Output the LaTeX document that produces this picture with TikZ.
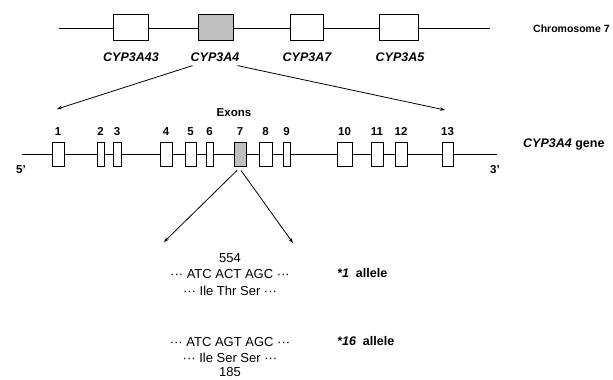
\documentclass[tikz,border=0pt]{standalone}
\usepackage{fontspec}
\setmainfont{Liberation Sans}
\usepackage{tikz}
\usetikzlibrary{arrows.meta, positioning}

\begin{document}
\begin{tikzpicture}[
    x=1pt, y=-1pt, >={Stealth[length=5pt, width=3.5pt]},
    gbox/.style={rectangle, draw, line width=1pt, fill=#1, inner sep=0pt,
      minimum height=26pt},
    ebox/.style={rectangle, draw, line width=0.9pt, fill=#1, inner sep=0pt,
      minimum height=24pt},
    gname/.style={font=\fontsize{12.5}{14}\selectfont\bfseries\itshape, inner sep=0pt},
    num/.style={font=\fontsize{11.5}{12}\selectfont\bfseries, inner sep=0pt},
    seq/.style={font=\fontsize{13}{14}\selectfont, inner sep=0pt},
    lab/.style={font=\fontsize{12.5}{14}\selectfont\bfseries, anchor=west, inner sep=0pt},
    arr/.style={->, line width=0.8pt}
  ]
  \useasboundingbox (0,0) rectangle (613,380);

  % chromosome 7
  \coordinate (chl) at (59, 28);
  \coordinate (chr) at (490, 28);
  \draw[line width=1pt] (chl) -- (chr);
  \node[gbox=white, minimum width=35pt] (g43) at (130.5, 27) {};
  \node[gbox=black!25, minimum width=35pt] (g4) at (215.5, 27) {};
  \node[gbox=white, minimum width=33pt] (g7) at (306.5, 27) {};
  \node[gbox=white, minimum width=39pt] (g5) at (398.5, 27) {};
  \node[gname] at (131, 57) {CYP3A43};
  \node[gname] (g4n) at (215, 57) {CYP3A4};
  \node[gname] at (307, 57) {CYP3A7};
  \node[gname] at (400, 57) {CYP3A5};
  \node[lab, font=\fontsize{10.5}{12}\selectfont\bfseries] at (533, 29) {Chromosome 7};

  % CYP3A4 gene
  \coordinate (gl) at (22, 154);
  \coordinate (gr) at (497, 154);
  \coordinate (al) at (57, 109);
  \coordinate (ar) at (445, 110);
  \draw[arr] ([xshift=2pt,yshift=-4pt]g4n.south west) -- (al);
  \draw[arr] ([xshift=-2pt,yshift=-4pt]g4n.south east) -- (ar);
  \draw[line width=1pt] (gl) -- (gr);
  \node[ebox=white, minimum width=12pt] (e1) at (58, 154) {};
  \node[ebox=white, minimum width=7pt] (e2) at (100.5, 154) {};
  \node[ebox=white, minimum width=8pt] (e3) at (117, 154) {};
  \node[ebox=white, minimum width=12pt] (e4) at (166, 154) {};
  \node[ebox=white, minimum width=11pt] (e5) at (190.5, 154) {};
  \node[ebox=white, minimum width=7pt] (e6) at (209.5, 154) {};
  \node[ebox=black!25, minimum width=12pt] (e7) at (240, 154) {};
  \node[ebox=white, minimum width=13pt] (e8) at (265.5, 154) {};
  \node[ebox=white, minimum width=7pt] (e9) at (286.5, 154) {};
  \node[ebox=white, minimum width=15pt] (e10) at (344.5, 154) {};
  \node[ebox=white, minimum width=12pt] (e11) at (377, 154) {};
  \node[ebox=white, minimum width=12pt] (e12) at (401, 154) {};
  \node[ebox=white, minimum width=11pt] (e13) at (447.5, 154) {};
  \node[num, above=6pt of e1] {1};
  \node[num, above=6pt of e2] {2};
  \node[num, above=6pt of e3] {3};
  \node[num, above=6pt of e4] {4};
  \node[num, above=6pt of e5] {5};
  \node[num, above=6pt of e6] {6};
  \node[num, above=6pt of e7] (n7) {7};
  \node[num, above=6pt of e8] {8};
  \node[num, above=6pt of e9] {9};
  \node[num, above=6pt of e10] {10};
  \node[num, above=6pt of e11] {11};
  \node[num, above=6pt of e12] {12};
  \node[num, above=6pt of e13] {13};
  \node[num] at (234, 113) {Exons};
  \node[num] at (21, 170) {5'};
  \node[num] at (495, 170) {3'};
  \node[lab] at (523, 144) {\textit{CYP3A4} gene};

  % alleles
  \node[seq] (n554) at (230, 258) {554};
  \node[seq] (s1) at (230, 274) {··· ATC ACT AGC ···};
  \node[seq] (p1) at (230, 291) {··· Ile Thr Ser ···};
  \node[lab] at (337, 273) {\textit{*1}\ \ allele};
  \node[seq] (s16) at (230, 342) {··· ATC AGT AGC ···};
  \node[seq] (p16) at (230, 358) {··· Ile Ser Ser ···};
  \node[seq] (n185) at (230, 372) {185};
  \node[lab] at (337, 341) {\textit{*16}\ \ allele};

  \coordinate (bl) at (164, 242);
  \coordinate (br) at (293, 243);
  \draw[arr] ([xshift=-3pt,yshift=-4pt]e7.south) -- (bl);
  \draw[arr] ([xshift=1pt,yshift=-4pt]e7.south) -- (br);
\end{tikzpicture}
\end{document}
